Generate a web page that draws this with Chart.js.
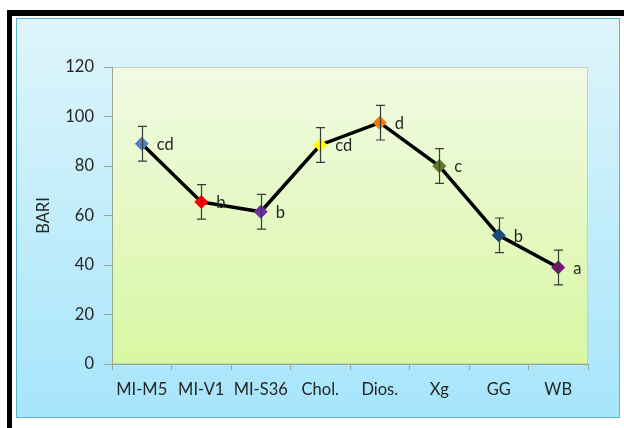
<!DOCTYPE html>
<html>
<head>
<meta charset="utf-8">
<script src="https://cdn.jsdelivr.net/npm/chart.js@4.4.1/dist/chart.umd.min.js"></script>
<style>
  html, body { margin: 0; padding: 0; background: #fff; }
  #wrap { width: 624px; height: 428px; position: relative; }
</style>
</head>
<body>
<div id="wrap"><canvas id="bari"></canvas></div>
<script>
const categories = ['MI-M5', 'MI-V1', 'MI-S36', 'Chol.', 'Dios.', 'Xg', 'GG', 'WB'];
const bariValues = [89, 65.5, 61.5, 88.5, 97.5, 80, 52, 39];
const bariErrors = [7, 7, 7, 7, 7, 7, 7, 7];
const letters = ['cd', 'b', 'b', 'cd', 'd', 'c', 'b', 'a'];
const markerColors = ['#4F81BD', '#FF0000', '#7030A0', '#FFFF00', '#F07A10', '#5F7530', '#1F497D', '#7F0F7E'];
const yTicks = [0, 20, 40, 60, 80, 100, 120];

const FONT = 'Lato, "Open Sans", sans-serif';
const TEXT = '#262626';

const backdrop = {
  id: 'backdrop',
  beforeDraw(chart) {
    const { ctx, chartArea: a } = chart;
    ctx.save();
    // black outer frame
    ctx.fillStyle = '#000';
    ctx.fillRect(7, 10, 624, 6);
    ctx.fillRect(7, 10, 5, 428);
    // blue panel
    const g = ctx.createLinearGradient(0, 17, 0, 418);
    g.addColorStop(0, '#dff5fb');
    g.addColorStop(1, '#a6e5fb');
    ctx.fillStyle = g;
    ctx.fillRect(16, 18, 604, 400);
    ctx.strokeStyle = '#58b6cf';
    ctx.lineWidth = 1;
    ctx.strokeRect(16.5, 18.5, 603, 399);
    // plot area
    const p = ctx.createLinearGradient(0, a.top, 0, a.bottom);
    p.addColorStop(0, '#f1fae4');
    p.addColorStop(1, '#d8f7a2');
    ctx.fillStyle = p;
    ctx.fillRect(a.left, a.top, a.right - a.left, a.bottom - a.top);
    ctx.strokeStyle = '#c4d6a8';
    ctx.strokeRect(a.left + 0.5, a.top + 0.5, a.right - a.left - 1, a.bottom - a.top - 1);
    ctx.restore();
  }
};

const errorsAndLetters = {
  id: 'errorsAndLetters',
  afterDatasetsDraw(chart) {
    const { ctx, scales: { x, y } } = chart;
    ctx.save();
    ctx.strokeStyle = '#3a3a3a';
    ctx.lineWidth = 1.2;
    bariValues.forEach((v, i) => {
      const px = Math.round(x.getPixelForValue(i)) + 0.5;
      const top = y.getPixelForValue(v + bariErrors[i]);
      const bot = y.getPixelForValue(v - bariErrors[i]);
      ctx.beginPath();
      ctx.moveTo(px, top); ctx.lineTo(px, bot);
      ctx.moveTo(px - 4.5, top); ctx.lineTo(px + 4.5, top);
      ctx.moveTo(px - 4.5, bot); ctx.lineTo(px + 4.5, bot);
      ctx.stroke();
    });
    ctx.fillStyle = TEXT;
    ctx.font = '16.5px ' + FONT;
    ctx.textAlign = 'left';
    ctx.textBaseline = 'middle';
    bariValues.forEach((v, i) => {
      const px = x.getPixelForValue(i);
      const py = y.getPixelForValue(v);
      ctx.fillText(letters[i], px + 15, py + 1);
    });
    ctx.restore();
  }
};

new Chart(document.getElementById('bari'), {
  type: 'line',
  plugins: [backdrop, errorsAndLetters],
  data: {
    labels: categories,
    datasets: [
      {
        data: bariValues,
        borderColor: '#000',
        borderWidth: 3.5,
        tension: 0,
        pointStyle: 'rectRot',
        pointRadius: 6.5,
        pointBorderWidth: 1,
        pointBackgroundColor: markerColors,
        pointBorderColor: markerColors,
        fill: false,
      },
    ]
  },
  options: {
    responsive: true,
    maintainAspectRatio: false,
    animation: false,
    layout: {
      padding: { left: 30, top: 67, right: 36, bottom: 28 }
    },
    plugins: {
      legend: { display: false },
      tooltip: { enabled: false },
    },
    scales: {
      x: {
        offset: true,
        afterFit: function (scale) { scale.height = 36; },
        border: { color: '#9aa690' },
        grid: {
          offset: true,
          drawOnChartArea: false,
          tickLength: 6,
          color: '#9aa690',
        },
        ticks: {
          color: TEXT,
          padding: 10,
          maxRotation: 0,
          minRotation: 0,
          autoSkip: false,
          font: { family: FONT, size: 16.5 },
        },
      },
      y: {
        min: 0,
        max: 120,
        afterFit: function (scale) { scale.width = 82; },
        afterBuildTicks: function (scale) { scale.ticks = yTicks.map(v => ({ value: v })); },
        border: { color: '#9aa690' },
        grid: {
          drawOnChartArea: false,
          tickLength: 8,
          color: '#9aa690',
        },
        ticks: {
          color: TEXT,
          padding: 10,
          font: { family: FONT, size: 16.5 },
        },
        title: {
          display: true,
          text: 'BARI',
          color: TEXT,
          font: { family: FONT, size: 16.5 },
          padding: { top: 4, bottom: 4 },
        },
      }
    }
  },
});
</script>
</body>
</html>
